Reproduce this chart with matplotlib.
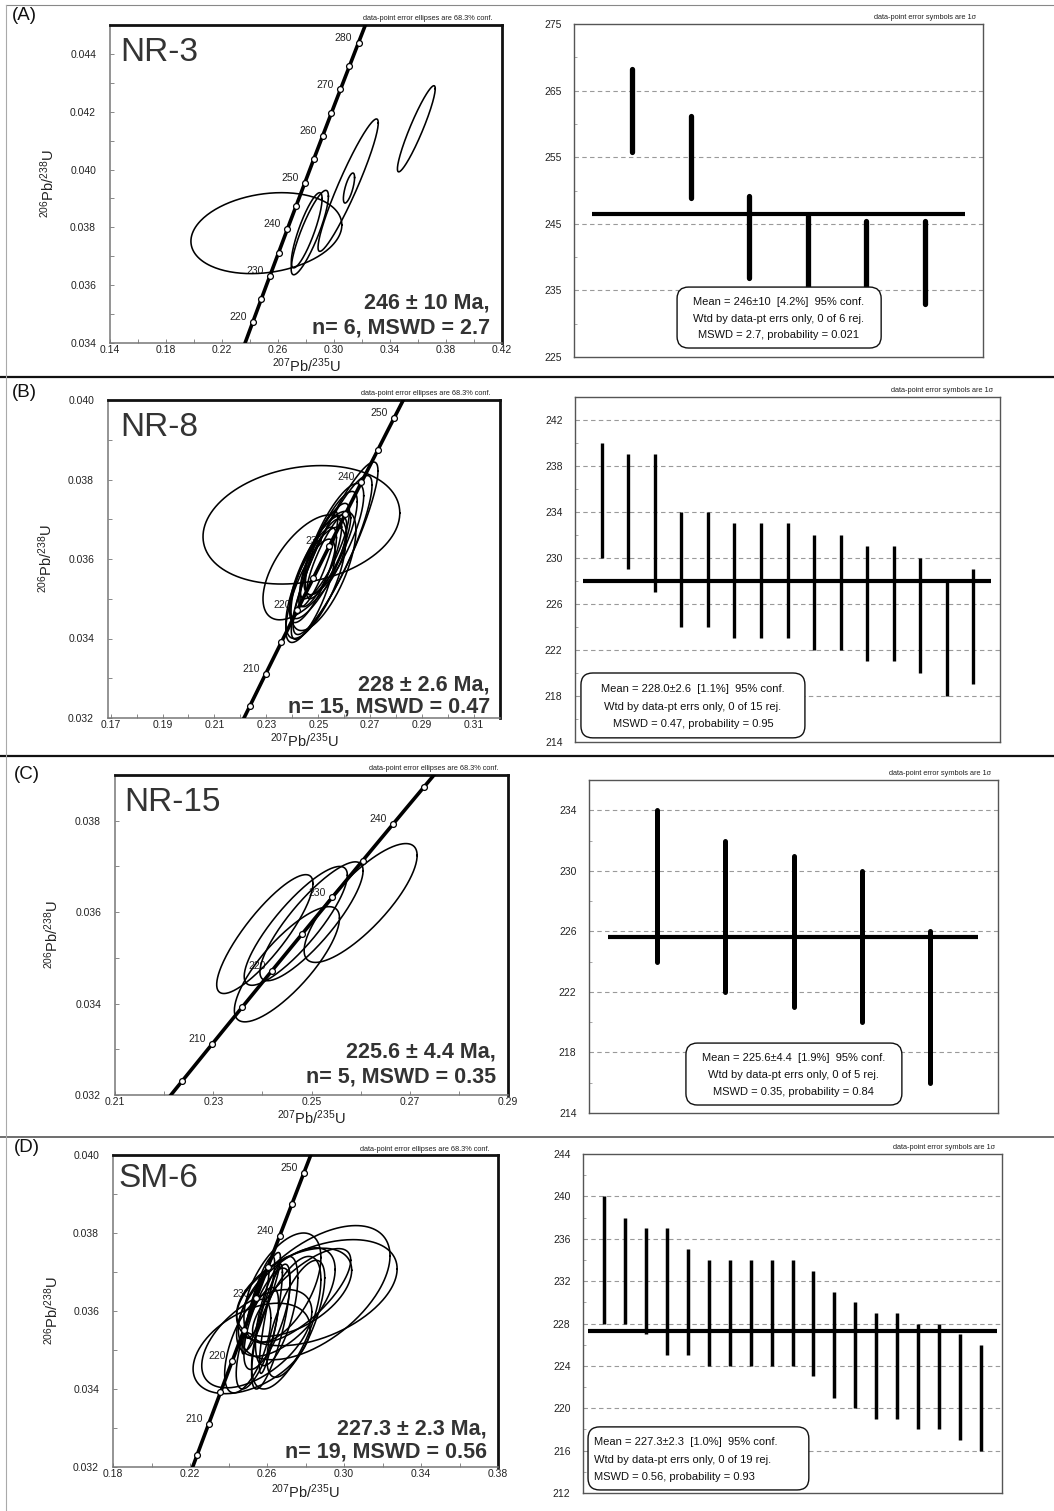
import numpy as np
import matplotlib
matplotlib.use("Agg")
import matplotlib.pyplot as plt
from matplotlib.patches import FancyBboxPatch
from matplotlib.lines import Line2D
from matplotlib.ticker import FixedLocator, FormatStrFormatter

plt.rcParams['font.family'] = ['Liberation Sans', 'DejaVu Sans']
plt.rcParams['mathtext.default'] = 'regular'

W, H, DPI = 1054, 1511, 100

# U decay constants (1/yr) for the concordia curve
L238 = 1.55125e-10
L235 = 9.8485e-10

# ---------------- data ----------------
panel_tags = ['(A)', '(B)', '(C)', '(D)']
samples = ['NR-3', 'NR-8', 'NR-15', 'SM-6']
age_lines = ['246 ± 10 Ma,', '228 ± 2.6 Ma,', '225.6 ± 4.4 Ma,', '227.3 ± 2.3 Ma,']
stat_lines = ['n= 6, MSWD = 2.7', 'n= 15, MSWD = 0.47',
              'n= 5, MSWD = 0.35', 'n= 19, MSWD = 0.56']

# error ellipses: 207Pb/235U (x, sx), 206Pb/238U (y, sy), correlation rho
nr3_x   = [0.2517, 0.2827, 0.2805, 0.3101, 0.3107, 0.3588]
nr3_sx  = [0.0539, 0.0133, 0.0110, 0.0215, 0.0040, 0.0135]
nr3_y   = [0.0378, 0.03782, 0.0379, 0.03946, 0.03936, 0.04141]
nr3_sy  = [0.0014, 0.00146, 0.0013, 0.00229, 0.00052, 0.00149]
nr3_rho = [0.20, 0.86, 0.84, 0.94, 0.70, 0.93]

nr8_x   = [0.2435, 0.2448, 0.2563, 0.2555, 0.2500, 0.2525, 0.2480, 0.2550,
           0.2510, 0.2490, 0.2540, 0.2470, 0.2560, 0.2520, 0.2500]
nr8_sx  = [0.0379, 0.0161, 0.0167, 0.0152, 0.0110, 0.0095, 0.0090, 0.0100,
           0.0080, 0.0115, 0.0085, 0.0095, 0.0115, 0.0125, 0.0075]
nr8_y   = [0.03686, 0.03579, 0.03621, 0.0361, 0.0358, 0.0362, 0.0356, 0.0364,
           0.0359, 0.0354, 0.0361, 0.0352, 0.0365, 0.0357, 0.0360]
nr8_sy  = [0.00149, 0.00132, 0.00223, 0.0020, 0.0013, 0.0012, 0.0012, 0.0013,
           0.0011, 0.0014, 0.0011, 0.0013, 0.0014, 0.0015, 0.0012]
nr8_rho = [0.20, 0.60, 0.90, 0.88, 0.78, 0.82, 0.78, 0.80,
           0.82, 0.72, 0.85, 0.75, 0.78, 0.68, 0.86]

nr15_x   = [0.2405, 0.2468, 0.2500, 0.2450, 0.2600]
nr15_sx  = [0.0098, 0.0105, 0.0105, 0.0107, 0.0115]
nr15_y   = [0.03552, 0.0357, 0.0358, 0.03486, 0.0362]
nr15_sy  = [0.0013, 0.0013, 0.0013, 0.00126, 0.0013]
nr15_rho = [0.85, 0.85, 0.85, 0.80, 0.80]

sm6_x   = [0.2845, 0.2859, 0.2520, 0.2547, 0.2698, 0.2741, 0.2780,
           0.2560, 0.2540, 0.2600, 0.2620, 0.2650, 0.2580, 0.2700,
           0.2500, 0.2680, 0.2750, 0.2620, 0.2550]
sm6_sx  = [0.0394, 0.0417, 0.0304, 0.0286, 0.0256, 0.0299, 0.0255,
           0.0080, 0.0070, 0.0120, 0.0100, 0.0110, 0.0090, 0.0180,
           0.0120, 0.0200, 0.0150, 0.0060, 0.0110]
sm6_y   = [0.03647, 0.03647, 0.03504, 0.03529, 0.03623, 0.03648, 0.0364,
           0.0362, 0.0360, 0.0358, 0.0356, 0.0360, 0.0364, 0.0357,
           0.0351, 0.0366, 0.0358, 0.0358, 0.0353]
sm6_sy  = [0.00172, 0.00136, 0.00116, 0.00126, 0.00139, 0.00113, 0.0012,
           0.0012, 0.0011, 0.0013, 0.0016, 0.0014, 0.0011, 0.0017,
           0.0012, 0.0014, 0.0015, 0.0014, 0.0013]
sm6_rho = [0.55, 0.45, 0.45, 0.55, 0.60, 0.50, 0.75,
           0.85, 0.90, 0.70, 0.75, 0.60, 0.88, 0.65,
           0.60, 0.55, 0.70, 0.85, 0.70]

# single-grain 206Pb/238U ages (Ma) with 1-sigma errors, and weighted means
nr3_age  = [262.0, 255.0, 243.0, 240.0, 239.2, 239.2]
nr3_err  = [6.2, 6.2, 6.1, 6.2, 6.2, 6.2]
nr3_mean = 246.4

nr8_age  = [235, 234, 233, 229, 229, 228, 228, 228, 227, 227, 226, 226, 225, 223, 224]
nr8_err  = [5, 5, 6, 5, 5, 5, 5, 5, 5, 5, 5, 5, 5, 5, 5]
nr8_mean = 228.0

nr15_age  = [229, 227, 226, 225, 221]
nr15_err  = [5, 5, 5, 5, 5]
nr15_mean = 225.6

sm6_age  = [234, 233, 232, 231, 230, 229, 229, 229, 229, 229,
            228, 226, 225, 224, 224, 223, 223, 222, 221]
sm6_err  = [6, 5, 5, 6, 5, 5, 5, 5, 5, 5, 5, 5, 5, 5, 5, 5, 5, 5, 5]
sm6_mean = 227.3

box_texts = [
    ['Mean = 246±10  [4.2%]  95% conf.', 'Wtd by data-pt errs only, 0 of 6 rej.',
     'MSWD = 2.7, probability = 0.021'],
    ['Mean = 228.0±2.6  [1.1%]  95% conf.', 'Wtd by data-pt errs only, 0 of 15 rej.',
     'MSWD = 0.47, probability = 0.95'],
    ['Mean = 225.6±4.4  [1.9%]  95% conf.', 'Wtd by data-pt errs only, 0 of 5 rej.',
     'MSWD = 0.35, probability = 0.84'],
    ['Mean = 227.3±2.3  [1.0%]  95% conf.', 'Wtd by data-pt errs only, 0 of 19 rej.',
     'MSWD = 0.56, probability = 0.93'],
]

# axis ticks
conc_xticks = [[0.14, 0.18, 0.22, 0.26, 0.30, 0.34, 0.38, 0.42],
               [0.17, 0.19, 0.21, 0.23, 0.25, 0.27, 0.29, 0.31],
               [0.21, 0.23, 0.25, 0.27, 0.29],
               [0.18, 0.22, 0.26, 0.30, 0.34, 0.38]]
conc_yticks = [[0.034, 0.036, 0.038, 0.040, 0.042, 0.044],
               [0.032, 0.034, 0.036, 0.038, 0.040],
               [0.032, 0.034, 0.036, 0.038],
               [0.032, 0.034, 0.036, 0.038, 0.040]]
mean_yticks = [[225, 235, 245, 255, 265, 275],
               [214, 218, 222, 226, 230, 234, 238, 242],
               [214, 218, 222, 226, 230, 234],
               [212, 216, 220, 224, 228, 232, 236, 240, 244]]

# ---------------- layout (pixel boxes: left, top, right, bottom) ----------------
conc_boxes = [(110, 25, 502, 343), (108, 400, 500, 718),
              (115, 775, 508, 1095), (113, 1155, 498, 1467)]
mean_boxes = [(574, 24, 983, 357), (575, 397, 1000, 742),
              (589, 780, 998, 1113), (583, 1154, 1002, 1493)]

conc_xlim = [(0.14, 0.42), (0.169, 0.320), (0.21, 0.29), (0.18, 0.38)]
conc_ylim = [(0.034, 0.045), (0.032, 0.040), (0.032, 0.039), (0.032, 0.040)]
conc_xlab_y = [-0.043, -0.043, -0.043, -0.050]

mean_ylim = [(225, 275), (214, 244), (214, 236), (212, 244)]
mean_xlim = [7, 16, 6, 20]
mean_span = [(0.3, 6.7), (0.29, 15.66), (0.28, 5.71), (0.24, 19.75)]
bar_lw = [3.8, 2.4, 3.6, 2.5]
bar_cap = ['round', 'butt', 'round', 'butt']

# text placement inside the mean-age boxes (axes fractions)
box_rect = [(0.252, 0.027, 0.751, 0.21), (0.014, 0.012, 0.541, 0.200),
            (0.237, 0.024, 0.765, 0.210), (0.012, 0.009, 0.539, 0.195)]
box_line_y = [(0.165, 0.114, 0.066), (0.154, 0.101, 0.052),
              (0.165, 0.114, 0.063), (0.150, 0.097, 0.047)]
box_text_x = [(0.5, 'center'), (0.2775, 'center'), (0.501, 'center'), (0.026, 'left')]

# result text baselines (axes fractions) and right edge
res_pos = [(0.969, 0.110, 0.031), (0.974, 0.088, 0.016),
           (0.969, 0.116, 0.0375), (0.971, 0.103, 0.029)]
name_pos = [(0.026, 0.962), (0.031, 0.962), (0.023, 0.962), (0.013, 0.974)]
tag_pos = [(12, 7), (12, 384), (14, 766), (14, 1139)]

ellipses = [
    (nr3_x, nr3_sx, nr3_y, nr3_sy, nr3_rho),
    (nr8_x, nr8_sx, nr8_y, nr8_sy, nr8_rho),
    (nr15_x, nr15_sx, nr15_y, nr15_sy, nr15_rho),
    (sm6_x, sm6_sx, sm6_y, sm6_sy, sm6_rho),
]
grain_ages = [(nr3_age, nr3_err, nr3_mean), (nr8_age, nr8_err, nr8_mean),
              (nr15_age, nr15_err, nr15_mean), (sm6_age, sm6_err, sm6_mean)]

TXT = '#333333'


def px_rect(b):
    l, t, r, bt = b
    return [l / W, 1 - bt / H, (r - l) / W, (bt - t) / H]


def concordia(t_ma):
    t = np.asarray(t_ma, dtype=float) * 1e6
    return np.expm1(L235 * t), np.expm1(L238 * t)


def ellipse_xy(cx, sx, cy, sy, rho, n=240):
    th = np.linspace(0, 2 * np.pi, n)
    x = cx + sx * np.cos(th)
    y = cy + sy * (rho * np.cos(th) + np.sqrt(1 - rho ** 2) * np.sin(th))
    return x, y


def halves(ticks):
    t = np.asarray(ticks, dtype=float)
    d = t[1] - t[0]
    return np.arange(t[0] - d / 2, t[-1] + d, d / 2)


fig = plt.figure(figsize=(W / DPI, H / DPI), dpi=DPI)
fig.patch.set_facecolor('white')


# panel frame lines
def hline(ypx, lw, color, x0=6, x1=W):
    fig.add_artist(Line2D([x0 / W, x1 / W], [1 - ypx / H, 1 - ypx / H],
                          transform=fig.transFigure, lw=lw, color=color))


hline(5, 0.8, '#888888')
hline(377, 1.6, '#111111', x0=0)
hline(756, 1.6, '#111111', x0=0)
hline(1137, 1.2, '#555555', x0=0)
fig.add_artist(Line2D([6 / W, 6 / W], [0, 1 - 5 / H], transform=fig.transFigure,
                      lw=0.8, color='#aaaaaa'))

t_curve = np.linspace(150, 330, 800)
cx_curve, cy_curve = concordia(t_curve)

for i in range(4):
    # ---------------- concordia diagram ----------------
    ax = fig.add_axes(px_rect(conc_boxes[i]))
    x0, x1 = conc_xlim[i]
    y0, y1 = conc_ylim[i]
    ax.plot(cx_curve, cy_curve, color='black', lw=2.6, zorder=3,
            solid_capstyle='butt')
    mk_ages = np.arange(150, 335, 5)
    mx, my = concordia(mk_ages)
    inside = (mx > x0) & (mx < x1) & (my > y0) & (my < y1)
    ax.plot(mx[inside], my[inside], 'o', ms=4.2, mfc='white', mec='black',
            mew=0.9, zorder=5)
    for a, xx, yy, ok in zip(mk_ages, mx, my, inside):
        if ok and a % 10 == 0:
            ax.annotate(f'{a}', (xx, yy), xytext=(-4.5, 3.5), textcoords='offset points',
                        ha='right', va='center', fontsize=7.5, color='#222222',
                        zorder=4)
    ex, esx, ey, esy, erho = ellipses[i]
    for k in range(len(ex)):
        px, py = ellipse_xy(ex[k], esx[k], ey[k], esy[k], erho[k])
        ax.plot(px, py, color='black', lw=1.15, zorder=4)
    ax.set_xlim(x0, x1)
    ax.set_ylim(y0, y1)
    ax.xaxis.set_major_locator(FixedLocator(conc_xticks[i]))
    ax.xaxis.set_minor_locator(FixedLocator(halves(conc_xticks[i])))
    ax.yaxis.set_major_locator(FixedLocator(conc_yticks[i]))
    ax.yaxis.set_minor_locator(FixedLocator(halves(conc_yticks[i])))
    ax.xaxis.set_major_formatter(FormatStrFormatter('%.2f'))
    ax.yaxis.set_major_formatter(FormatStrFormatter('%.3f'))
    ax.tick_params(axis='both', which='both', direction='in', length=3,
                   width=0.7, color='#888888', labelsize=7.5, labelcolor='#222222')
    ax.tick_params(axis='y', pad=10)
    ax.tick_params(axis='x', pad=1.5)
    for s in ('left', 'bottom'):
        ax.spines[s].set_color('#777777')
        ax.spines[s].set_linewidth(1.1)
    for s in ('top', 'right'):
        ax.spines[s].set_color('#111111')
        ax.spines[s].set_linewidth(2.0)
    ax.set_xlabel(r'$^{207}$Pb/$^{235}$U', fontsize=10.5, color='#222222', va='top')
    ax.xaxis.set_label_coords(0.5, conc_xlab_y[i])
    ax.set_ylabel(r'$^{206}$Pb/$^{238}$U', fontsize=10.5, color='#222222', va='center')
    ax.yaxis.set_label_coords(-0.16, 0.5)
    ax.text(0.977, 1.008, 'data-point error ellipses are 68.3% conf.',
            transform=ax.transAxes, ha='right', va='bottom', fontsize=5.3,
            color='#222222')
    nx, ny = name_pos[i]
    ax.text(nx, ny, samples[i], transform=ax.transAxes, ha='left', va='top',
            fontsize=24, color=TXT, zorder=6)
    rx, r1, r2 = res_pos[i]
    ax.text(rx, r1, age_lines[i], transform=ax.transAxes, ha='right',
            va='baseline', fontsize=15.5, fontweight='bold', color=TXT, zorder=6)
    ax.text(rx, r2, stat_lines[i], transform=ax.transAxes, ha='right',
            va='baseline', fontsize=15.5, fontweight='bold', color=TXT, zorder=6)
    tx, ty = tag_pos[i]
    fig.text(tx / W, 1 - ty / H, panel_tags[i], ha='left', va='top',
             fontsize=13.5, color='#111111')

    # ---------------- weighted mean age plot ----------------
    bx = fig.add_axes(px_rect(mean_boxes[i]))
    ages, errs, mean = grain_ages[i]
    lo, hi = mean_ylim[i]
    for g in mean_yticks[i]:
        if lo < g < hi:
            bx.axhline(g, color='#9a9a9a', lw=0.8, dashes=(4, 3), zorder=1)
    xs = np.arange(1, len(ages) + 1)
    for xpos, a, e in zip(xs, ages, errs):
        bx.plot([xpos, xpos], [a - e, a + e], color='black', lw=bar_lw[i],
                solid_capstyle=bar_cap[i], zorder=3)
    m0, m1 = mean_span[i]
    bx.plot([m0, m1], [mean, mean], color='black', lw=3.0,
            solid_capstyle='butt', zorder=3)
    bx.set_xlim(0, mean_xlim[i])
    bx.set_ylim(lo, hi)
    bx.set_xticks([])
    bx.yaxis.set_major_locator(FixedLocator(mean_yticks[i]))
    bx.yaxis.set_minor_locator(FixedLocator(halves(mean_yticks[i])))
    bx.tick_params(axis='y', which='both', direction='in', length=2.5, width=0.6,
                   color='#999999', labelsize=7.5, labelcolor='#222222', pad=9)
    for s in bx.spines.values():
        s.set_color('#555555')
        s.set_linewidth(1.0)
    bx.text(0.983, 1.008, 'data-point error symbols are 1σ', transform=bx.transAxes,
            ha='right', va='bottom', fontsize=5.3, color='#222222')

    # rounded summary box
    ax_w = mean_boxes[i][2] - mean_boxes[i][0]
    ax_h = mean_boxes[i][3] - mean_boxes[i][1]
    bx0, by0, bx1, by1 = box_rect[i]
    patch = FancyBboxPatch((bx0, by0), bx1 - bx0, by1 - by0,
                           boxstyle='round,pad=0,rounding_size=0.028',
                           mutation_aspect=ax_w / ax_h,
                           transform=bx.transAxes, facecolor='white',
                           edgecolor='#111111', lw=1.0, zorder=5)
    bx.add_patch(patch)
    tx_, ha_ = box_text_x[i]
    for line, ly in zip(box_texts[i], box_line_y[i]):
        bx.text(tx_, ly, line, transform=bx.transAxes, ha=ha_, va='center',
                fontsize=8, color='#111111', zorder=6)

fig.savefig('out.png', dpi=DPI, facecolor='white')
